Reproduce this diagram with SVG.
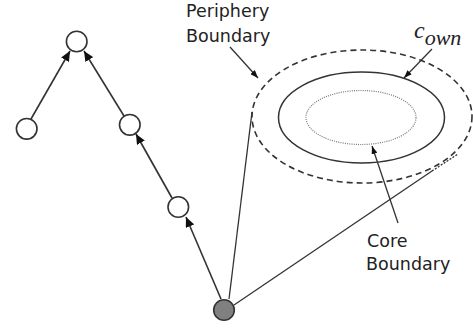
<svg xmlns="http://www.w3.org/2000/svg" width="473" height="329" viewBox="0 0 473 329">
<defs>
<marker id="ah" markerWidth="10" markerHeight="9" refX="10" refY="4.5" orient="auto" markerUnits="userSpaceOnUse">
<path d="M0,0 L10,4.5 L0,9 Z" fill="#111"/>
</marker>
<marker id="as" markerWidth="8" markerHeight="6" refX="8" refY="3" orient="auto" markerUnits="userSpaceOnUse">
<path d="M0,0 L8,3 L0,6 Z" fill="#111"/>
</marker>
</defs>
<style>
.node{fill:#fff;stroke:#333;stroke-width:1.6}
.src{fill:#808080;stroke:#333;stroke-width:1.6}
.edge{stroke:#333;stroke-width:1.6;fill:none}
.ln{stroke:#333;stroke-width:1.3;fill:none}
.lbl{font-family:"DejaVu Sans",Verdana,sans-serif;font-size:17.5px;fill:#222}
.math{font-family:"Liberation Serif","Times New Roman",serif;font-style:italic;fill:#222}
</style>
<rect width="473" height="329" fill="#fff"/>
<g id="boundaries">
<ellipse cx="362" cy="116.5" rx="110" ry="66.5" fill="none" stroke="#333" stroke-width="1.6" stroke-dasharray="6 4"/>
<ellipse cx="361.5" cy="117.5" rx="83" ry="45.5" fill="none" stroke="#333" stroke-width="1.5"/>
<ellipse cx="361" cy="117.5" rx="55" ry="27" fill="none" stroke="#777" stroke-width="1.2" stroke-dasharray="1 1.2"/>
</g>
<g id="connectors">
<line class="edge" x1="31" y1="119" x2="70" y2="51" marker-end="url(#ah)"/>
<line class="edge" x1="124" y1="116" x2="84" y2="51" marker-end="url(#ah)"/>
<line class="edge" x1="172" y1="198" x2="136" y2="134" marker-end="url(#ah)"/>
<line class="edge" x1="221" y1="299" x2="186" y2="217" marker-end="url(#ah)"/>
<line class="ln" x1="229" y1="299" x2="252" y2="112"/>
<line class="ln" x1="234" y1="305" x2="432" y2="171"/>
<line class="ln" x1="432" y1="171" x2="458" y2="154" stroke-dasharray="2 1.5"/>
<line class="ln" x1="230" y1="47" x2="258" y2="78" marker-end="url(#as)"/>
<line class="ln" x1="432" y1="49" x2="404" y2="78" marker-end="url(#as)"/>
<line class="ln" x1="398" y1="223" x2="372" y2="146" marker-end="url(#as)"/>
</g>
<g id="n-top"><circle class="node" cx="76.7" cy="41.5" r="10.3"/></g>
<g id="n-left"><circle class="node" cx="26.7" cy="128.8" r="10.3"/></g>
<g id="n-mid"><circle class="node" cx="129.8" cy="124.8" r="10.3"/></g>
<g id="n-low"><circle class="node" cx="178.3" cy="207" r="10.3"/></g>
<g id="n-src"><circle class="src" cx="224" cy="310" r="10.3"/></g>
<g id="labels">
<text class="lbl" x="186" y="17">Periphery</text>
<text class="lbl" x="186" y="42">Boundary</text>
<text class="lbl" x="367" y="247">Core</text>
<text class="lbl" x="366" y="270">Boundary</text>
<text class="math" x="414" y="38" font-size="24">c<tspan font-size="22" dy="7">own</tspan></text>
</g>
</svg>
